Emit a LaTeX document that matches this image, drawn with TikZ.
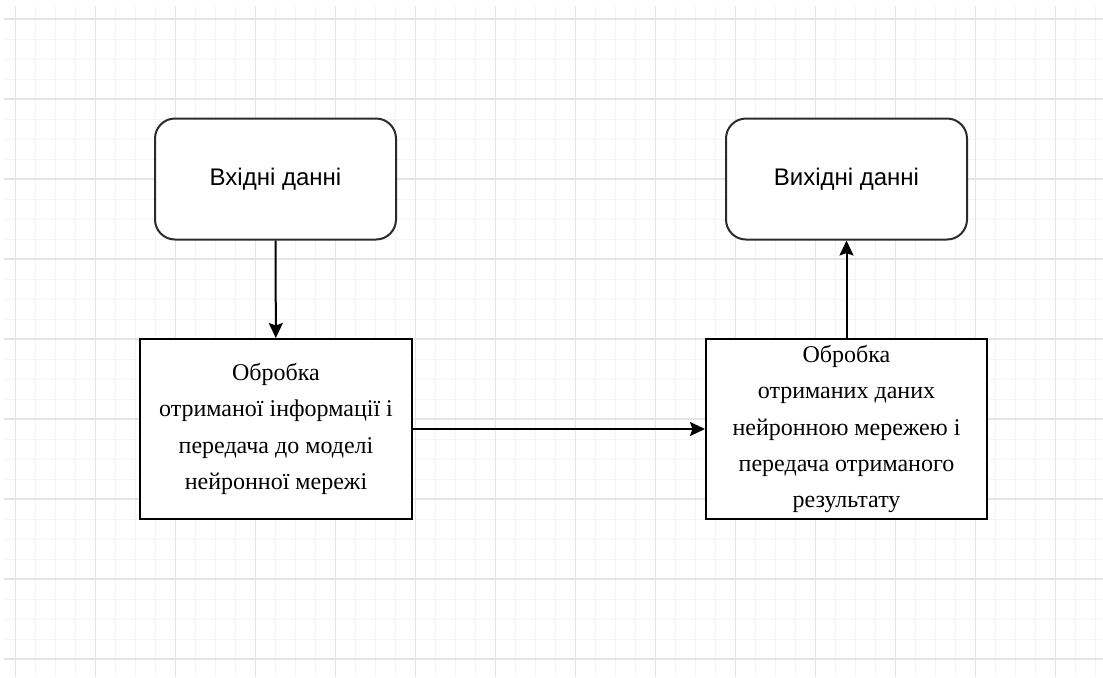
\documentclass[tikz,border=0pt]{standalone}
\usepackage{fontspec}
\setmainfont{Liberation Serif}
\newfontfamily\arialfont{Liberation Sans}
\usetikzlibrary{arrows.meta}
\definecolor{minorgrid}{HTML}{F4F4F4}
\definecolor{majorgrid}{HTML}{E4E4E4}
\definecolor{edgegray}{HTML}{2B2B2B}
\tikzset{
  minorline/.style={draw=minorgrid,line width=0.5pt},
  majorline/.style={draw=majorgrid,line width=0.6pt},
  termbox/.style={draw=edgegray,line width=1pt,rounded corners=10pt,fill=white,
    minimum width=120.5pt,minimum height=60.5pt,inner sep=0pt,
    font=\arialfont\fontsize{12pt}{14pt}\selectfont},
  procbox/.style={draw=black,line width=1pt,fill=white,minimum height=90pt,
    inner sep=0pt,align=center,font=\fontsize{12pt}{18.2pt}\selectfont},
}
\begin{document}
\begin{tikzpicture}[x=0.5pt,y=-0.5pt]
      \useasboundingbox (0,0) rectangle (1103,677);
      % background grid
      \foreach \x in {15.5,35.5,...,1100} \draw[minorline] (\x,6) -- (\x,677);
      \foreach \y in {19,39,...,670} \draw[minorline] (4,\y) -- (1103,\y);
      \foreach \x in {15.5,95.5,...,1100} \draw[majorline] (\x,6) -- (\x,677);
      \foreach \y in {19,99,...,670} \draw[majorline] (4,\y) -- (1103,\y);
      \draw
        (275.5,179) node[termbox] (in){Вхідні данні}
        (846.5,179) node[termbox] (out){Вихідні данні}
        (276,429) node[procbox,minimum width=136pt] (prep){Обробка\\
          отриманої інформації і\\ передача до моделі\\ нейронної мережі}
        (846.5,429) node[procbox,minimum width=140.5pt] (net){Обробка\\
          отриманих даних\\ нейронною мережею і\\ передача отриманого\\ результату};
      \begin{scope}[-{Stealth[length=7.5pt,width=7pt,inset=1.2pt]},line width=1pt]
        \draw (in) to (prep);
        \draw (prep) to (net);
        \draw (net) to (out);
      \end{scope}
    \end{tikzpicture}
\end{document}
